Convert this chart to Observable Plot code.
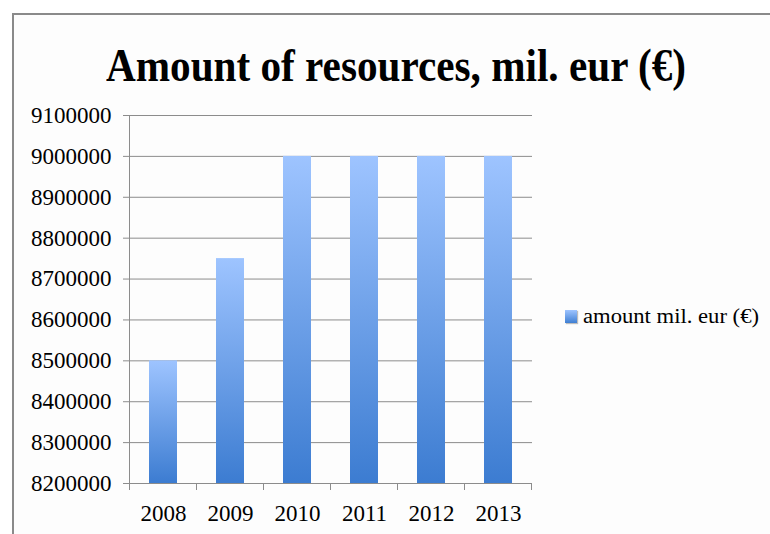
<!DOCTYPE html>
<html>
<head>
<meta charset="utf-8">
<script src="https://cdn.jsdelivr.net/npm/d3@7"></script>
<script src="https://cdn.jsdelivr.net/npm/@observablehq/plot@0.6"></script>
<style>
  html, body { margin: 0; padding: 0; background: #fff; width: 770px; height: 534px; overflow: hidden; }
  #frame { position: absolute; left: 12px; top: 13px; width: 820px; height: 600px;
           border: 2px solid #8a8a8a; background: #fdfdfd; box-sizing: border-box; }
  #chart { position: absolute; left: 0; top: 0; }
  #title { position: absolute; top: 43px; left: 0; white-space: nowrap;
           font-family: "Liberation Serif", serif; font-weight: bold; font-size: 46px;
           line-height: 46px; color: #000; transform-origin: left center; }
  #legend { position: absolute; left: 565px; top: 304px; height: 24px; display: flex; align-items: center; }
  #legend .swatch { width: 12px; height: 13px; background: linear-gradient(#9ec4ff, #3f7fd3);
                    box-shadow: 1px 1px 1px rgba(0,0,0,0.25); }
  #legend .label { margin-left: 6px; font-family: "Liberation Serif", serif; font-size: 20px;
                   color: #000; white-space: nowrap; transform-origin: left center; display: inline-block; }
</style>
</head>
<body>
<div id="frame"></div>
<div id="chart"></div>
<div id="title">Amount of resources, mil. eur (€)</div>
<div id="legend"><div class="swatch"></div><span class="label">amount mil. eur (€)</span></div>
<script>
// Resources per year, mil. eur
const years = ["2008", "2009", "2010", "2011", "2012", "2013"];
const amounts = [8500000, 8750000, 9000000, 9000000, 9000000, 9000000];
const yTicks = [8200000, 8300000, 8400000, 8500000, 8600000, 8700000, 8800000, 8900000, 9000000, 9100000];
const yMin = 8200000;
const yMax = 9100000;

const data = years.map((year, i) => ({year, amount: amounts[i]}));

const gridColor = "#8c8c8c";

// Short ticks at the category boundaries below the x axis
function boundaryTicks(index, scales, values, dims) {
  const x = scales.x;
  const gap = (x.step() - x.bandwidth()) / 2;
  const bottom = dims.height - dims.marginBottom;
  const g = d3.create("svg:g").attr("stroke", gridColor).attr("stroke-width", 1);
  const edges = years.map(d => x(d) - gap).concat([x(years[years.length - 1]) + x.bandwidth() + gap]);
  for (const e of edges) {
    g.append("line").attr("x1", e).attr("x2", e).attr("y1", bottom).attr("y2", bottom + 7);
  }
  return g.node();
}

const plot = Plot.plot({
  width: 770,
  height: 534,
  marginTop: 115,
  marginBottom: 51,
  marginLeft: 129,
  marginRight: 238,
  style: {background: "transparent", fontFamily: "Liberation Serif, serif", fontSize: "23px", color: "#000"},
  x: {domain: years, paddingInner: 0.58, paddingOuter: 0.29, align: 0.5, label: null},
  y: {domain: [yMin, yMax], label: null},
  marks: [
    Plot.gridY(yTicks, {stroke: gridColor, strokeOpacity: 1}),
    Plot.frame({anchor: "left", stroke: gridColor}),
    Plot.axisY(yTicks, {tickFormat: d3.format("d"), tickSize: 6, tickPadding: 12,
                        stroke: gridColor, fill: "#000", label: null}),
    Plot.axisX({tickSize: 0, tickPadding: 21, fill: "#000", label: null}),
    boundaryTicks,
    Plot.barY(data, {x: "year", y1: yMin, y2: "amount", fill: "url(#barGradient)",
                     style: "filter: drop-shadow(2px 2px 2px rgba(0,0,0,0.28))"})
  ]
});

// Vertical gradient applied to each bar
const defs = d3.select(plot).insert("defs", ":first-child");
const grad = defs.append("linearGradient").attr("id", "barGradient")
  .attr("x1", 0).attr("y1", 0).attr("x2", 0).attr("y2", 1);
grad.append("stop").attr("offset", "0%").attr("stop-color", "#9ec4ff");
grad.append("stop").attr("offset", "100%").attr("stop-color", "#3c7cd1");

document.getElementById("chart").appendChild(plot);

// Fit the title and legend text to their widths
const title = document.getElementById("title");
const tw = title.getBoundingClientRect().width;
const ts = 580 / tw;
title.style.transform = `scaleX(${ts})`;
title.style.left = (396 - 580 / 2) + "px";

const lab = document.querySelector("#legend .label");
const lw = lab.getBoundingClientRect().width;
lab.style.transform = `scaleX(${176 / lw})`;
</script>
</body>
</html>
